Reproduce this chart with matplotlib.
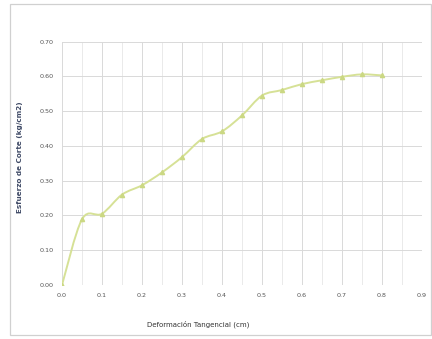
import matplotlib
matplotlib.use("Agg")
import matplotlib.pyplot as plt
from matplotlib.path import Path
from matplotlib.patches import PathPatch, Rectangle
import numpy as np

# Shear test: tangential deformation (cm) vs shear stress (kg/cm2)
deformacion = [0.00, 0.05, 0.10, 0.15, 0.20, 0.25, 0.30, 0.35, 0.40,
               0.45, 0.50, 0.55, 0.60, 0.65, 0.70, 0.75, 0.80]
esfuerzo = [0.000, 0.189, 0.205, 0.260, 0.287, 0.324, 0.368, 0.420, 0.442,
            0.488, 0.545, 0.561, 0.578, 0.589, 0.599, 0.606, 0.603]

x_ticks = [0.0, 0.1, 0.2, 0.3, 0.4, 0.5, 0.6, 0.7, 0.8, 0.9]
x_tick_labels = ["0.0", "0.1", "0.2", "0.3", "0.4", "0.5", "0.6", "0.7", "0.8", "0.9"]
y_ticks = [0.0, 0.1, 0.2, 0.3, 0.4, 0.5, 0.6, 0.7]
y_tick_labels = ["0.00", "0.10", "0.20", "0.30", "0.40", "0.50", "0.60", "0.70"]

line_color = "#d6e196"
marker_color = "#cbd883"
grid_color = "#d9d9d9"
text_color = "#555555"
narrow = ["Liberation Sans Narrow", "DejaVu Sans"]

fig = plt.figure(figsize=(4.32, 3.39), dpi=100)
fig.patch.set_facecolor("white")

# outer chart frame
fig.patches.append(Rectangle((10 / 432, 4 / 339), 421 / 432, 331 / 339,
                             transform=fig.transFigure, fill=False,
                             edgecolor="#d0d0d0", linewidth=0.9))

ax = fig.add_axes([62 / 432, 1 - 285 / 339, 360 / 432, (285 - 41.7) / 339])
ax.set_xlim(0, 0.9)
ax.set_ylim(0, 0.7)

for s in ax.spines.values():
    s.set_visible(False)

ax.set_xticks(x_ticks)
ax.set_xticklabels(x_tick_labels)
ax.set_yticks(y_ticks)
ax.set_yticklabels(y_tick_labels)
ax.set_xticks(np.arange(0.05, 0.9, 0.1), minor=True)
ax.tick_params(axis="both", which="both", length=0, labelsize=4.6,
               labelcolor=text_color, pad=6)
ax.grid(True, which="major", color=grid_color, linewidth=0.7)
ax.grid(True, which="minor", axis="x", color="#e6e6e6", linewidth=0.6)
ax.set_axisbelow(True)

for lab in ax.get_xticklabels() + ax.get_yticklabels():
    lab.set_family(narrow)

# smoothed curve through the measured points (cubic Bezier, spreadsheet style)
pts = np.column_stack([deformacion, esfuerzo])
n = len(pts)
verts = [tuple(pts[0])]
codes = [Path.MOVETO]
for i in range(n - 1):
    p0 = pts[i - 1] if i > 0 else pts[i]
    p1 = pts[i]
    p2 = pts[i + 1]
    p3 = pts[i + 2] if i + 2 < n else pts[i + 1]
    c1 = p1 + (p2 - p0) / 6.0
    c2 = p2 - (p3 - p1) / 6.0
    verts += [tuple(c1), tuple(c2), tuple(p2)]
    codes += [Path.CURVE4] * 3
ax.add_patch(PathPatch(Path(verts, codes), facecolor="none",
                       edgecolor=line_color, linewidth=1.4, zorder=3))
ax.plot(deformacion, esfuerzo, linestyle="none", marker="^", markersize=3.0,
        color=marker_color, zorder=4)

fig.text(198 / 432, 1 - 324 / 339, "Deformación Tangencial (cm)",
         ha="center", va="center", fontsize=5, color="#333333",
         family=narrow)
fig.text(20 / 432, 1 - 157 / 339, "Esfuerzo de Corte (kg/cm2)",
         ha="center", va="center", rotation=90, fontsize=5.2,
         color="#3f4a66", fontweight="bold", family=["DejaVu Sans"])

fig.savefig("out.png", dpi=100, facecolor="white")
